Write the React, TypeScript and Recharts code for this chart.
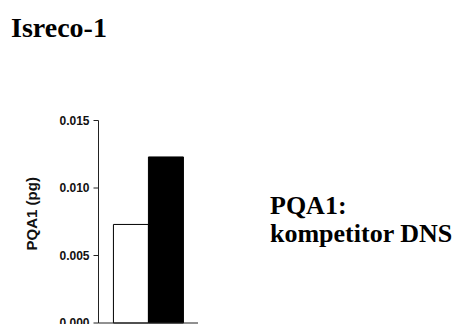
import React from 'react';
import { BarChart, Bar, XAxis, YAxis } from 'recharts';

const categories = ['Isreco-1'];
const withoutCompetitor = [0.0073];
const withCompetitor = [0.0123];
const yTicks = [0, 0.005, 0.01, 0.015];

const data = categories.map((name, i) => ({
  name,
  a: withoutCompetitor[i],
  b: withCompetitor[i],
}));

const serif = '"Liberation Serif", "Times New Roman", serif';
const sans = '"Liberation Sans", Arial, sans-serif';

const App: React.FC = () => (
  <div style={{ position: 'absolute', left: 0, top: 0, width: 457, height: 324, background: '#fff', overflow: 'hidden' }}>
    <BarChart
      width={457}
      height={324}
      data={data}
      margin={{ top: 120.5, right: 259, bottom: 0, left: 0 }}
      barGap={0}
      barCategoryGap="15%"
    >
      <XAxis dataKey="name" tick={false} tickLine={false} height={1} stroke="#222" />
      <YAxis
        width={98.5}
        domain={[0, 0.015]}
        ticks={yTicks}
        tickFormatter={(v: number) => v.toFixed(3)}
        tickSize={5}
        tickMargin={4}
        stroke="#222"
        tick={{ fill: '#111', fontSize: 12, fontWeight: 'bold', fontFamily: sans }}
        interval={0}
        label={{
          value: 'PQA1 (pg)',
          angle: -90,
          position: 'center',
          dx: -18,
          dy: -8,
          fill: '#111',
          fontSize: 15,
          fontWeight: 'bold',
          fontFamily: sans,
        }}
      />
      <Bar dataKey="a" fill="#fff" stroke="#000" strokeWidth={1} isAnimationActive={false} />
      <Bar dataKey="b" fill="#000" stroke="#000" strokeWidth={1} isAnimationActive={false} />
    </BarChart>
    <div style={{ position: 'absolute', left: 11, top: 12, fontFamily: serif, fontWeight: 'bold', fontSize: 28, lineHeight: '32px', color: '#000', whiteSpace: 'nowrap' }}>
      Isreco-1
    </div>
    <div style={{ position: 'absolute', left: 270, top: 192, fontFamily: serif, fontWeight: 'bold', fontSize: 26, lineHeight: '27.5px', color: '#000', whiteSpace: 'nowrap' }}>
      PQA1:
      <br />
      kompetitor DNS
    </div>
  </div>
);

export default App;
